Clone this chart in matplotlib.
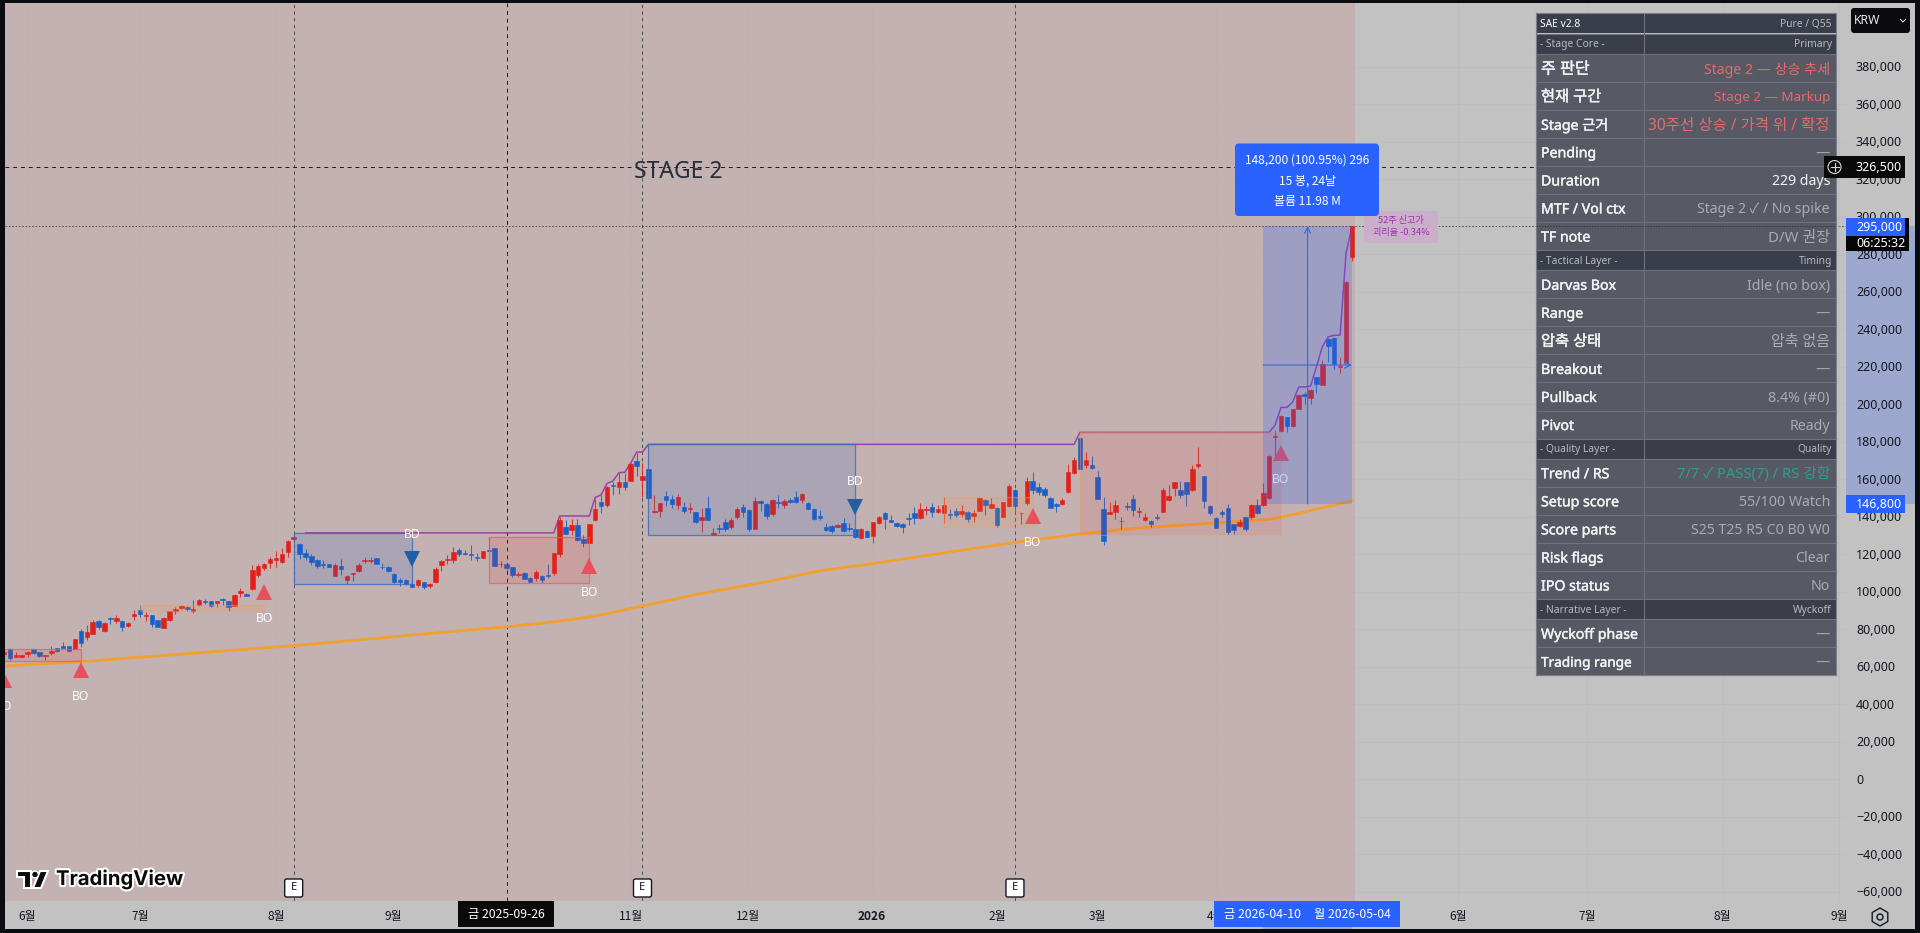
import numpy as np
import matplotlib
matplotlib.use("Agg")
import matplotlib.pyplot as plt
import matplotlib.patheffects as pe
from matplotlib.patches import Rectangle, FancyBboxPatch, Circle, Polygon, RegularPolygon

plt.rcParams['font.family'] = ['Noto Sans', 'Noto Sans CJK KR', 'DejaVu Sans']
CJK = ['Noto Sans CJK KR', 'DejaVu Sans']

# daily bars, thousand won
opens = [66.6,69.4,65.4,65.3,67.0,69.3,67.8,65.9,67.5,69.8,
 71.0,71.2,69.4,79.2,75.7,77.6,84.4,79.2,86.0,84.2,
 84.6,81.7,87.2,90.1,87.2,87.4,84.7,80.8,84.9,89.9,
 91.1,91.8,89.7,93.1,95.2,94.9,94.2,95.9,94.9,92.6,
 99.4,98.9,101.4,108.9,112.6,115.1,116.7,115.7,121.4,128.3,
 125.4,120.5,119.2,116.7,114.9,114.8,108.6,113.5,106.2,109.4,
 111.2,116.5,116.4,117.8,113.4,113.0,109.4,106.2,106.1,103.9,
 103.6,105.0,103.0,105.0,114.1,116.9,116.9,122.2,120.5,120.1,
 118.7,118.2,122.4,123.1,114.6,114.6,113.2,108.9,110.1,107.3,
 107.1,108.4,108.9,110.1,120.1,134.5,132.9,135.6,128.1,126.1,
 138.2,147.7,146.1,156.7,155.7,158.5,159.2,169.7,159.7,165.3,
 142.3,142.9,151.0,149.3,146.1,145.4,144.3,142.3,138.1,144.6,
 130.2,134.0,137.2,134.5,139.7,145.4,143.6,133.6,148.2,146.6,
 141.4,147.8,146.4,148.9,150.3,148.9,147.3,144.1,140.2,134.5,
 135.2,134.5,136.6,134.1,133.3,128.5,132.5,129.7,136.6,142.2,
 138.2,136.5,135.9,139.1,141.8,139.3,143.4,145.4,142.7,142.1,
 141.4,142.8,141.4,142.7,140.5,143.2,149.1,144.8,144.6,139.8,
 145.7,154.1,141.8,147.1,158.8,155.7,154.8,150.0,146.8,146.6,
 153.0,163.3,181.8,167.4,167.6,161.3,143.9,141.4,142.7,137.5,
 145.7,149.6,142.7,138.4,137.7,139.6,142.7,149.1,155.1,154.0,
 158.3,154.2,167.2,161.5,145.9,139.1,142.5,144.8,135.9,135.2,
 139.6,139.8,146.1,146.1,150.0,182.5,185.7,193.0,188.2,197.6,
 205.4,203.5,214.5,210.2,234.6,235.1,219.8,222.0,278.5]
highs = [68.5,69.8,68.0,66.2,68.5,69.4,67.8,66.4,71.0,70.2,
 73.4,71.2,75.0,79.9,82.2,84.9,84.9,84.0,86.3,87.6,
 84.9,83.8,90.2,92.9,89.4,87.6,84.9,86.3,89.9,91.7,
 92.9,92.4,95.6,95.9,95.9,95.2,95.2,96.5,95.2,98.8,
 101.8,99.4,114.2,114.8,115.5,118.3,121.9,123.1,127.6,130.2,
 125.8,122.8,120.1,117.3,116.9,114.8,115.1,117.3,108.9,110.0,
 115.5,118.3,118.3,118.1,115.1,113.7,109.8,107.1,106.6,106.9,
 106.6,105.4,104.5,113.0,116.9,119.6,124.0,123.1,122.2,124.7,
 120.8,121.9,129.3,123.3,116.4,115.5,113.4,110.5,110.7,107.7,
 111.6,108.9,114.8,120.8,140.0,138.2,139.0,138.6,130.2,136.1,
 149.3,151.6,156.4,158.7,163.1,163.5,168.5,173.8,168.5,165.4,
 151.6,147.5,153.7,151.4,152.1,148.0,147.1,142.7,144.5,151.0,
 133.8,136.1,138.6,139.1,145.0,146.8,143.9,150.3,148.9,147.1,
 149.3,151.6,149.3,149.8,153.9,152.8,147.7,144.5,143.6,136.5,
 135.6,136.1,139.1,136.5,133.8,133.8,132.9,137.4,140.4,142.5,
 140.9,137.3,136.5,141.8,145.0,147.1,145.7,147.5,146.2,150.3,
 143.9,144.5,146.1,143.0,143.6,150.3,149.3,149.8,145.0,148.0,
 157.4,154.6,142.7,161.0,164.0,158.1,155.7,150.3,147.5,149.8,
 168.1,171.7,182.0,174.7,172.4,164.5,150.7,148.0,148.9,140.0,
 148.0,151.6,145.0,142.1,138.2,141.4,155.1,156.9,158.7,159.0,
 158.7,167.6,177.3,161.7,146.2,140.0,143.6,146.6,136.1,138.6,
 140.0,146.8,149.3,157.8,172.9,186.2,194.0,193.3,197.6,205.2,
 206.7,207.9,214.7,223.6,235.1,235.6,225.3,265.9,295.0]
lows = [66.3,63.6,65.0,64.5,65.3,67.0,65.3,63.6,66.4,68.0,
 69.8,68.2,69.3,70.7,74.2,77.4,79.9,78.7,82.8,83.1,
 79.2,81.2,84.9,86.7,84.6,81.4,81.2,80.6,84.6,87.9,
 90.8,89.9,88.5,92.4,93.4,91.8,92.0,92.9,89.9,92.4,
 97.3,97.7,100.9,108.0,111.6,112.5,113.4,115.1,118.7,126.7,
 117.6,116.9,114.1,112.5,112.5,113.0,108.4,108.9,103.9,105.9,
 110.7,115.1,115.1,114.8,111.9,110.5,104.8,103.0,103.4,102.3,
 102.3,101.3,101.8,104.5,111.2,114.8,115.1,119.0,119.4,116.9,
 116.5,117.8,121.4,113.7,113.0,111.6,108.0,107.7,106.6,105.2,
 105.5,104.4,107.1,108.9,118.3,130.6,130.2,127.2,123.7,125.8,
 137.9,141.8,145.4,151.6,152.1,154.2,158.9,161.9,150.7,149.6,
 141.8,139.7,145.7,144.5,143.9,142.2,141.8,136.5,132.0,138.2,
 130.1,131.1,132.6,133.3,138.6,140.0,132.6,133.3,143.2,138.6,
 140.4,144.5,144.5,147.1,147.5,147.5,143.9,138.2,138.2,132.4,
 131.5,134.3,132.0,132.6,128.5,128.0,129.0,126.1,136.1,133.4,
 137.2,134.7,131.1,135.6,136.1,138.6,140.9,140.0,141.8,136.5,
 138.6,140.0,140.0,137.3,137.3,143.0,140.9,144.5,134.3,139.7,
 145.3,141.8,136.1,146.2,152.1,151.6,150.3,144.5,142.7,146.2,
 152.8,162.8,165.2,165.8,165.4,149.3,124.7,141.2,138.6,133.2,
 143.6,140.4,139.7,137.9,134.3,138.2,142.3,148.5,151.0,149.8,
 145.7,153.9,166.1,144.5,140.9,134.0,139.7,130.6,130.8,134.7,
 132.5,138.9,141.4,145.7,149.6,171.1,185.3,185.3,188.0,197.2,
 200.1,200.1,205.8,210.0,222.7,218.6,216.4,221.8,276.5]
closes = [68.0,64.5,66.4,66.2,67.8,67.1,65.7,66.4,68.4,68.4,
 70.2,68.4,74.6,72.5,78.3,84.0,81.2,83.5,85.6,86.0,
 81.2,83.3,87.9,88.1,87.8,83.0,81.4,85.8,89.5,91.0,
 92.2,90.6,90.6,95.4,94.3,92.2,94.9,95.6,91.7,98.2,
 100.2,97.9,111.6,113.7,114.8,117.4,117.8,120.1,126.8,129.2,
 120.1,118.3,116.0,113.7,114.1,113.4,114.2,112.1,108.4,110.0,
 114.1,116.9,116.9,114.9,113.0,111.0,105.4,105.4,103.9,102.7,
 106.1,102.7,103.9,111.9,116.4,117.4,121.2,120.3,119.9,119.4,
 118.2,121.5,121.5,113.9,114.9,112.5,108.9,109.4,106.8,105.3,
 110.7,106.2,108.4,120.5,138.2,130.9,135.7,127.6,126.1,135.9,
 144.1,145.5,156.0,156.4,158.3,155.8,168.1,167.2,161.5,149.8,
 142.9,147.1,148.7,146.8,150.3,143.0,144.6,137.3,139.7,138.4,
 131.5,133.6,133.3,138.4,144.3,142.7,133.3,148.2,147.1,140.5,
 148.7,147.5,148.6,147.7,148.0,152.1,144.3,138.9,139.1,132.7,
 132.5,135.6,132.5,133.3,129.0,133.3,129.3,137.0,139.7,138.8,
 137.3,135.2,134.3,138.8,139.3,143.9,144.1,142.7,144.1,146.4,
 141.1,141.1,142.8,138.6,141.9,149.8,146.2,146.6,135.6,147.7,
 156.3,145.7,142.1,158.8,154.2,153.2,151.7,144.8,145.5,148.9,
 164.0,170.0,165.4,170.0,165.8,149.6,127.2,142.7,146.1,137.9,
 145.2,143.6,143.2,140.0,136.1,139.3,154.2,151.0,158.5,151.7,
 152.1,165.3,167.9,148.5,141.8,134.1,141.2,131.7,133.1,137.0,
 133.2,146.1,141.8,152.8,172.4,182.8,193.7,188.2,197.2,204.9,
 204.3,207.7,210.7,221.2,231.0,221.2,220.4,265.3,295.0]

# orange moving average and the purple highest-high line, corner points only
ma_bars = [0,13,49,80,85,92,100,108,118,130,138,146.5,160,171,182,191,202,214,219,228]
ma_vals = [60.4,62.7,71.2,80.0,81.3,83.5,87.0,92.4,99.1,105.9,111.2,114.8,121.2,126.3,130.8,133.8,136.1,138.6,141.8,148.5]
high_bars = [51,93,94,99,100,101,102,103,104,105,106,107,108,109,181,182,214,215,216,217,218,219,220,221,222,223,224,225,226,227,228]
high_vals = [131.4,131.4,140.4,140.4,150.3,151.7,157.8,159.0,163.5,163.7,168.5,174.5,174.5,178.6,178.6,185.0,185.0,188.9,198.3,198.3,201.3,209.2,209.2,209.7,220.0,230.7,236.0,236.7,236.9,280.5,294.7]

# darvas boxes: first bar, last bar, top, bottom
blue_boxes = [(49,69,131.3,103.9),(109,144,178.6,130.1)]
red_boxes = [(82,99,129.2,104.5),(0,13,69.6,63.0)]
pale_boxes = [(182,216,185.0,130.4)]
orange_boxes = [(23,44,92.9,89.9),(159,174,150.7,134.3)]
bo_bars = [0,13,44,99,174,216]
bo_prices = [52.9,58.2,99.8,113.7,140.2,173.8]
bd_bars = [69,144]
bd_prices = [117.3,145.2]

event_bars = [49,108,171]
cross_bar = 85
stage_end = 228.5
measure_bars = (213,228)
measure_prices = (146.8,295.0)
cross_price = 326.5
last_price = 295.0

price_ticks = list(range(-60000,380001,20000))
month_bars = [3.9,23,46,65.8,106,125.9,146.8,168,185,205,246,267.8,290.7,310.4]
month_labels = ['6월','7월','8월','9월','11월','12월','2026','2월','3월','4월','6월','7월','8월','9월']

table_left = ['SAE v2.8','- Stage Core -','주 판단','현재 구간','Stage 근거','Pending','Duration','MTF / Vol ctx','TF note',
 '- Tactical Layer -','Darvas Box','Range','압축 상태','Breakout','Pullback','Pivot',
 '- Quality Layer -','Trend / RS','Setup score','Score parts','Risk flags','IPO status',
 '- Narrative Layer -','Wyckoff phase','Trading range']
table_right = ['Pure / Q55','Primary','Stage 2 — 상승 추세','Stage 2 — Markup','30주선 상승 / 가격 위 / 확정','—','229 days','Stage 2 ✓ / No spike','D/W 권장',
 'Timing','Idle (no box)','—','압축 없음','—','8.4% (#0)','Ready',
 'Quality','7/7 ✓ PASS(7) / RS 강함','55/100 Watch','S25 T25 R5 C0 B0 W0','Clear','No',
 'Wyckoff','—','—']
header_rows = [0,1,9,16,22]
red_rows = [2,3,4]
white_rows = [6]
teal_rows = [17]
# Hangul runs wider in the reference than the fallback font at the same size
table_sizes = {'주 판단':11.6,'현재 구간':11.0,'압축 상태':11.0,'Trading range':9.8,'압축 없음':10.8,
 '30주선 상승 / 가격 위 / 확정':11.2,'D/W 권장':10.8,'Stage 2 — Markup':9.7,'7/7 ✓ PASS(7) / RS 강함':10.6}

UP = '#e0211b'
DOWN = '#1b5fc8'
PANE = '#c2c2c2'
BLACK = '#0a0c10'

opens = np.array(opens)*1000
highs = np.array(highs)*1000
lows = np.array(lows)*1000
closes = np.array(closes)*1000
bars = np.arange(len(opens))
K = 1000

fig = plt.figure(figsize=(19.2,9.33),dpi=100,facecolor=PANE)
px = 1/100*72  # one pixel in points

ax = fig.add_axes([5/1920,1-901/933,1841/1920,898/933],facecolor=PANE)
ax.set_xlim((5-4)/5.912,(1846-4)/5.912)
ax.set_ylim(-64930,413970)
for s in ax.spines.values():
    s.set_visible(False)

ax.axvspan(ax.get_xlim()[0],stage_end,color='#c4b1b1',lw=0,zorder=0)
ax.set_yticks(price_ticks)
ax.set_yticklabels([])
ax.tick_params(axis='y',length=0,right=False,left=False)
ax.set_xticks(month_bars)
ax.set_xticklabels(month_labels,fontsize=8.6,color='#131722',family=CJK)
ax.tick_params(axis='x',length=0,pad=9*px)
ax.get_xticklabels()[6].set_fontweight('bold')
ax.grid(color='#b4b4b4',lw=0.5,alpha=0.45,zorder=0.5)

# event and crosshair lines
for b in event_bars:
    ax.axvline(b,color='#3a3a3a',lw=0.6,dashes=(4,4),zorder=1)
ax.axvline(cross_bar,color='#1a1a1a',lw=0.7,dashes=(4,4),zorder=1)
ax.axhline(cross_price*K,color='#1a1a1a',lw=0.7,dashes=(4,4),zorder=1)
ax.axhline(last_price*K,color='#444444',lw=0.6,dashes=(2,2),zorder=1)

ax.plot(high_bars,np.array(high_vals)*K,color='#a040a8',lw=1.1,zorder=2)
ax.plot(ma_bars,np.array(ma_vals)*K,color='#f2a02e',lw=2.0,zorder=2)

# candles
rising = closes>=opens
colors = [UP if r else DOWN for r in rising]
ax.vlines(bars,lows,highs,colors=colors,lw=0.75,alpha=0.85,zorder=3)
ax.bar(bars,np.abs(closes-opens),bottom=np.minimum(opens,closes),width=0.76,color=colors,lw=0.4,edgecolor=colors,zorder=4)

def box(b,face,edge,alpha,ealpha,lw=0.9):
    x0,x1,top,bot = b
    ax.add_patch(Rectangle((x0,bot*K),x1-x0,(top-bot)*K,facecolor=face,alpha=alpha,lw=0,zorder=5))
    ax.add_patch(Rectangle((x0,bot*K),x1-x0,(top-bot)*K,fill=False,edgecolor=edge,alpha=ealpha,lw=lw,zorder=5))

for b in blue_boxes:
    box(b,'#1e5fc8','#3f6fb8',0.15,0.85)
for b in red_boxes:
    box(b,'#e63232','#e06060',0.13,0.75)
for b in pale_boxes:
    box(b,'#e63232','#f0a050',0.11,0.45)
for b in orange_boxes:
    box(b,'#f09040','#f0a050',0.15,0.4)

ax.plot(bo_bars,np.array(bo_prices)*K,'^',ms=16*px,mew=0,color='#e8505b',zorder=6,clip_on=True)
ax.plot(bd_bars,np.array(bd_prices)*K,'v',ms=16*px,mew=0,color='#1f5fa8',zorder=6)
for b,p in zip(bo_bars,bo_prices):
    ax.annotate('BO',(b,p*K),xytext=(0,-26*px),textcoords='offset points',ha='center',va='center',color='white',fontsize=8.8,zorder=6,annotation_clip=False)
for b,p in zip(bd_bars,bd_prices):
    ax.annotate('BD',(b,p*K),xytext=(0,25*px),textcoords='offset points',ha='center',va='center',color='white',fontsize=8.8,zorder=6)

ax.annotate('STAGE 2',(114,cross_price*K),xytext=(0,-5*px),textcoords='offset points',fontsize=16.5,color='#2a2e39',ha='center',va='center',zorder=6)

# measure tool
m0,m1 = measure_bars
p0,p1 = measure_prices
ax.add_patch(Rectangle((m0,p0*K),m1-m0,(p1-p0)*K,facecolor='#2962ff',alpha=0.24,lw=0,zorder=7))
mid_x = (m0+m1)/2
mid_p = (p0+p1)/2*K
ax.annotate('',xy=(mid_x,p1*K),xytext=(mid_x,p0*K),arrowprops=dict(arrowstyle='->',color='#2f6be0',lw=0.8,shrinkA=0,shrinkB=0,mutation_scale=11),zorder=8)
ax.annotate('',xy=(m1,mid_p),xytext=(m0,mid_p),arrowprops=dict(arrowstyle='->',color='#2f6be0',lw=0.8,shrinkA=0,shrinkB=0,mutation_scale=11),zorder=8)

# overlay in pixels for the chrome: table, tags, logo
ov = fig.add_axes([0,0,1,1],facecolor='none')
ov.set_xlim(0,1920)
ov.set_ylim(933,0)
ov.axis('off')
fig.canvas.draw()

def ypx(price):
    return 933-ax.transData.transform((0,price))[1]*(933/fig.bbox.height)

def xpx(bar):
    return ax.transData.transform((bar,0))[0]

def rect(x0,y0,x1,y1,color,z=10,**kw):
    ov.add_patch(Rectangle((x0,y0),x1-x0,y1-y0,facecolor=color,lw=0,zorder=z,**kw))

def rbox(x0,y0,x1,y1,color,r=3,z=10,ec='none',lw=0):
    ov.add_patch(FancyBboxPatch((x0+r,y0+r),x1-x0-2*r,y1-y0-2*r,boxstyle=f'round,pad={r},rounding_size={r}',facecolor=color,edgecolor=ec,lw=lw,zorder=z))

# measure label
rbox(1235,143.5,1379,216,'#2962ff',r=4,z=11)
cx = xpx(mid_x)
ov.text(cx,160,'148,200 (100.95%) 296',color='white',fontsize=8.6,ha='center',va='center',zorder=12,family=CJK)
ov.text(cx,181,'15 봉, 24날',color='white',fontsize=8.6,ha='center',va='center',zorder=12,family=CJK)
ov.text(cx,201.5,'볼륨 11.98 M',color='white',fontsize=8.6,ha='center',va='center',zorder=12,family=CJK)

# 52 week high note
rbox(1364,211,1438,243,'#c9afc9',r=2,z=9)
ov.text(1401,220,'52주 신고가',color='#a030b0',fontsize=6.6,ha='center',va='center',zorder=10,family=CJK)
ov.text(1401,232,'괴리율 -0.34%',color='#a030b0',fontsize=6.6,ha='center',va='center',zorder=10,family=CJK)

# table
tx0,tx1,tsplit = 1536,1836,1644
y = 13.3
for i,(l,r) in enumerate(zip(table_left,table_right)):
    head = i in header_rows
    h = 20.2 if head else 28.05
    rect(tx0,y,tx1,y+h,'#3a3d4a' if head else '#575a65',z=13)
    ov.plot([tx0,tx1],[y+h,y+h],color='#6f727d',lw=0.8,zorder=14)
    ym = y+h/2
    if head:
        ov.text(tx0+4,ym+1,l,color='white' if i==0 else '#b8bac0',fontsize=7.4,ha='left',va='center',zorder=15,weight='bold' if i==0 else 'normal')
        ov.text(tx1-4,ym+1,r,color='#b8bac0',fontsize=7.4,ha='right',va='center',zorder=15)
    else:
        col = '#a9abb0'
        if i in red_rows:
            col = '#e26c6c'
        if i in teal_rows:
            col = '#2e9e8c'
        if i in white_rows:
            col = '#f4f4f4'
        thin = [pe.withStroke(linewidth=0.3,foreground='#f2f2f2')]
        ov.text(tx0+5,ym+2,l,color='#f2f2f2',fontsize=table_sizes.get(l,10.2),ha='left',va='center',zorder=15,path_effects=thin)
        ov.text(tx1-6,ym+2,r,color=col,fontsize=table_sizes.get(r,10.2),ha='right',va='center',zorder=15,weight='bold' if i in white_rows else 'normal')
    y += h
ov.plot([tsplit,tsplit],[13.3,y],color='#6f727d',lw=0.8,zorder=14)
ov.plot([tx0,tx1,tx1,tx0,tx0],[13.3,13.3,y,y,13.3],color='#7b7e89',lw=0.8,zorder=14)
ov.plot([tx0,tx1],[ypx(last_price*K)]*2,color='#2a2a2a',lw=0.5,dashes=(2,2),zorder=16)

# price axis: range band and labels
rect(1846,ypx(last_price*K),1915,ypx(p0*K),'#9da8cf',z=2)
y_lab = fig.add_axes([0,0,1,1],facecolor='none')
y_lab.set_xlim(0,1920)
y_lab.set_ylim(933,0)
y_lab.axis('off')
y_lab.set_zorder(ov.get_zorder()+1)
for p in price_ticks:
    y_lab.text(1856,ypx(p)+0.8,f'{p:,}'.replace('-','−'),fontsize=9.0,color='#131722',ha='left',va='center',zorder=3)

def tag(axx,x0,y0,x1,y1,color,text,z=5):
    axx.add_patch(Rectangle((x0,y0),x1-x0,y1-y0,facecolor=color,lw=0,zorder=z))
    axx.text(1856,(y0+y1)/2+0.5,text,color='white',fontsize=9.0,ha='left',va='center',zorder=z+1)

yc = ypx(cross_price*K)
tag(y_lab,1846.5,yc-10.7,1905,yc+11,'#0a0a0a','326,500')
y_lab.add_patch(Rectangle((1824,yc-10.7),22.5,21.7,facecolor='#0a0a0a',lw=0,zorder=5))
y_lab.add_patch(Circle((1834.5,yc),6.5,fill=False,edgecolor='#d8d8d8',lw=0.8,zorder=6))
y_lab.plot([1830.5,1838.5],[yc,yc],color='#d8d8d8',lw=0.8,zorder=6)
y_lab.plot([1834.5,1834.5],[yc-4,yc+4],color='#d8d8d8',lw=0.8,zorder=6)
yl = ypx(last_price*K)
y_lab.add_patch(Rectangle((1846,yl-8),63,33,facecolor='#050505',lw=0,zorder=5))
tag(y_lab,1846,yl-8,1905,yl+10,'#2962ff','295,000',z=6)
y_lab.text(1856,yl+17.5,'06:25:32',color='white',fontsize=9.0,ha='left',va='center',zorder=7)
ym = ypx(p0*K)
tag(y_lab,1846,ym-9,1905,ym+9,'#2962ff','146,800')

# currency button
y_lab.add_patch(FancyBboxPatch((1854,11),53,19,boxstyle='round,pad=3,rounding_size=3',facecolor='#0b0b0e',lw=0,zorder=5))
y_lab.text(1854,20.5,'KRW',color='#e8e8e8',fontsize=8.8,ha='left',va='center',zorder=6)
y_lab.plot([1900.5,1903,1905.5],[19.5,22,19.5],color='#d0d0d0',lw=0.8,zorder=6)

# time axis labels
y_lab.add_patch(Rectangle((458,901),96,26,facecolor='#0a0a0a',lw=0,zorder=5))
y_lab.text(506,914.5,'금 2025-09-26',color='white',fontsize=8.8,ha='center',va='center',zorder=6,family=CJK)
y_lab.add_patch(Rectangle((1263,926),89,3,facecolor='#9da8cf',lw=0,zorder=4))
y_lab.add_patch(Rectangle((1214,901),186,26,facecolor='#2962ff',lw=0,zorder=5))
y_lab.text(1263,914.5,'금 2026-04-10',color='white',fontsize=8.8,ha='center',va='center',zorder=6,family=CJK)
y_lab.text(1352,914.5,'월 2026-05-04',color='white',fontsize=8.8,ha='center',va='center',zorder=6,family=CJK)

# earnings markers
for b in event_bars:
    xb = xpx(b)
    y_lab.add_patch(FancyBboxPatch((xb-7,881),14,14,boxstyle='round,pad=2,rounding_size=2',facecolor='white',edgecolor='#131722',lw=1.0,zorder=5))
    y_lab.text(xb,888,'E',color='#131722',fontsize=8,weight='bold',ha='center',va='center',zorder=6)

# settings icon
y_lab.add_patch(RegularPolygon((1880,917),6,radius=9,fill=False,edgecolor='#131722',lw=1.0,zorder=6))
y_lab.add_patch(Circle((1880,917),3,fill=False,edgecolor='#131722',lw=1.0,zorder=6))

# logo
halo = [pe.withStroke(linewidth=3,foreground='white')]
for pts in ([(17,871),(31,871),(31,888),(24,888),(24,877),(17,877)],[(40,871),(48,871),(41,888),(33,888)]):
    y_lab.add_patch(Polygon(pts,closed=True,facecolor='#0a0a0a',edgecolor='white',lw=1.5,zorder=5))
y_lab.add_patch(Circle((35,874.5),3.4,facecolor='#0a0a0a',edgecolor='white',lw=1,zorder=5))
y_lab.text(56,879.5,'TradingView',color='#0a0a0a',fontsize=14.6,fontfamily='Inter',weight='bold',ha='left',va='center',zorder=6,path_effects=halo)

# screen border
for x0,y0,x1,y1 in [(0,0,5,933),(0,0,1920,3),(0,929,1920,933),(1915,0,1920,933)]:
    y_lab.add_patch(Rectangle((x0,y0),x1-x0,y1-y0,facecolor=BLACK,lw=0,zorder=30))

fig.savefig('out.png',dpi=100)
